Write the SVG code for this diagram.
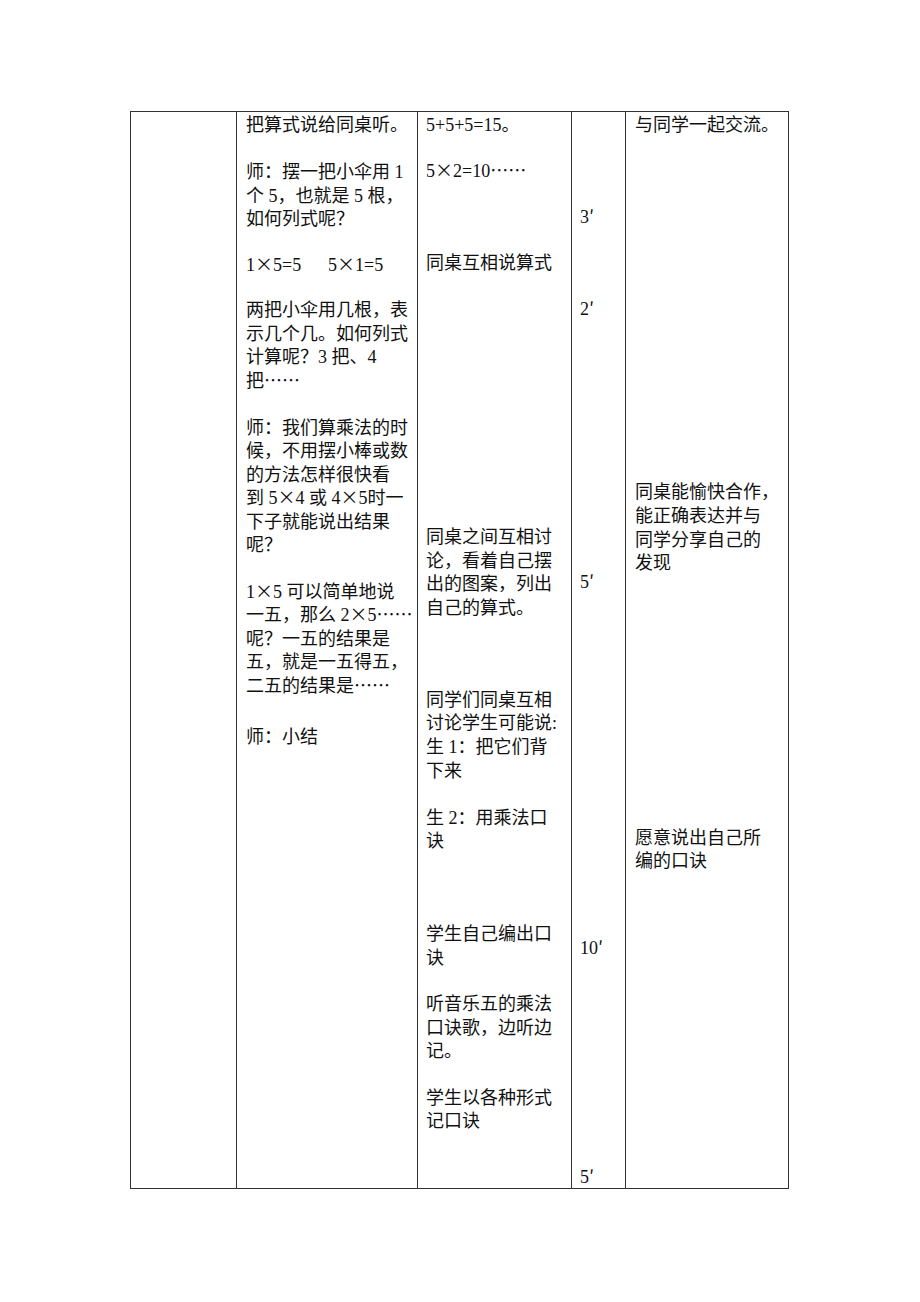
<svg xmlns="http://www.w3.org/2000/svg" width="920" height="1302" viewBox="0 0 920 1302">
<style>
.g{stroke:#333;stroke-width:1;fill:none}
text{font-family:"Liberation Serif","Noto Sans CJK SC",serif;font-size:18px;fill:#111}
.c{font-family:"Noto Sans CJK SC",sans-serif}
</style>
<rect width="920" height="1302" fill="#fff"/>
<g id="table">
<rect class="g" x="130.5" y="111.5" width="658" height="1077"/>
<line class="g" x1="236.5" y1="111" x2="236.5" y2="1188"/>
<line class="g" x1="417.5" y1="111" x2="417.5" y2="1188"/>
<line class="g" x1="571.5" y1="111" x2="571.5" y2="1188"/>
<line class="g" x1="625.5" y1="111" x2="625.5" y2="1188"/>
</g>
<g id="col2">
<text x="246" y="131">把算式说给同桌听。</text>
<text x="246" y="178">师：摆一把小伞用 1</text>
<text x="246" y="202">个 5，也就是 5 根，</text>
<text x="246" y="225">如何列式呢？</text>
<text x="246" y="271">1<tspan class="c">×</tspan>5=5<tspan x="328">5</tspan><tspan class="c">×</tspan>1=5</text>
<text x="246" y="316">两把小伞用几根，表</text>
<text x="246" y="340">示几个几。如何列式</text>
<text x="246" y="363">计算呢？3 把、4</text>
<text x="246" y="387">把<tspan class="c">……</tspan></text>
<text x="246" y="434">师：我们算乘法的时</text>
<text x="246" y="457">候，不用摆小棒或数</text>
<text x="246" y="481">的方法怎样很快看</text>
<text x="246" y="504">到 5<tspan class="c">×</tspan>4 或 4<tspan class="c">×</tspan>5时一</text>
<text x="246" y="528">下子就能说出结果</text>
<text x="246" y="551">呢？</text>
<text x="246" y="598">1<tspan class="c">×</tspan>5 可以简单地说</text>
<text x="246" y="621">一五，那么 2<tspan class="c">×</tspan>5<tspan class="c">……</tspan></text>
<text x="246" y="645">呢？一五的结果是</text>
<text x="246" y="668">五，就是一五得五，</text>
<text x="246" y="692">二五的结果是<tspan class="c">……</tspan></text>
<text x="246" y="743">师：小结</text>
</g>
<g id="col3">
<text x="426" y="131">5+5+5=15。</text>
<text x="426" y="177">5<tspan class="c">×</tspan>2=10<tspan class="c">……</tspan></text>
<text x="426" y="269">同桌互相说算式</text>
<text x="426" y="543">同桌之间互相讨</text>
<text x="426" y="567">论，看着自己摆</text>
<text x="426" y="590">出的图案，列出</text>
<text x="426" y="614">自己的算式。</text>
<text x="426" y="706">同学们同桌互相</text>
<text x="426" y="729">讨论学生可能说:</text>
<text x="426" y="753">生 1：把它们背</text>
<text x="426" y="777">下来</text>
<text x="426" y="824">生 2：用乘法口</text>
<text x="426" y="847">诀</text>
<text x="426" y="940">学生自己编出口</text>
<text x="426" y="964">诀</text>
<text x="426" y="1010">听音乐五的乘法</text>
<text x="426" y="1034">口诀歌，边听边</text>
<text x="426" y="1057">记。</text>
<text x="426" y="1104">学生以各种形式</text>
<text x="426" y="1127">记口诀</text>
</g>
<g id="col4">
<text x="580" y="223">3<tspan class="c">′</tspan></text>
<text x="580" y="315">2<tspan class="c">′</tspan></text>
<text x="580" y="588">5<tspan class="c">′</tspan></text>
<text x="580" y="954">10<tspan class="c">′</tspan></text>
<text x="580" y="1183">5<tspan class="c">′</tspan></text>
</g>
<g id="col5">
<text x="635" y="131">与同学一起交流。</text>
<text x="635" y="498">同桌能愉快合作，</text>
<text x="635" y="522">能正确表达并与</text>
<text x="635" y="546">同学分享自己的</text>
<text x="635" y="569">发现</text>
<text x="635" y="844">愿意说出自己所</text>
<text x="635" y="867">编的口诀</text>
</g>
</svg>
